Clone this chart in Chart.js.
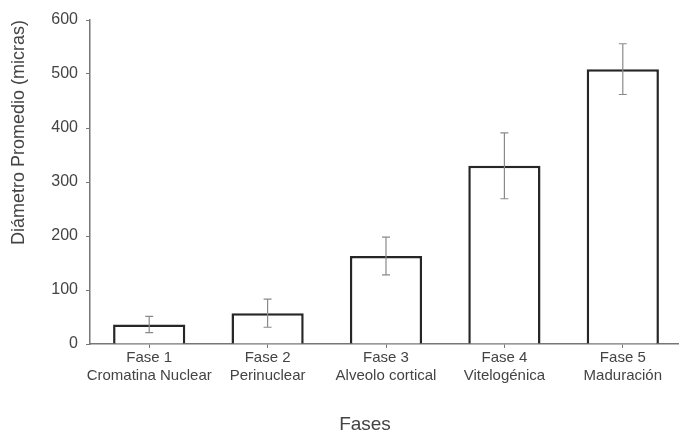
<!DOCTYPE html>
<html>
<head>
<meta charset="utf-8">
<script src="https://cdn.jsdelivr.net/npm/chart.js@4/dist/chart.umd.min.js"></script>
<style>
  html, body { margin: 0; padding: 0; background: #fff; overflow: hidden; }
  #chart { display: block; }
</style>
</head>
<body>
<canvas id="chart" width="682" height="435"></canvas>
<script>
// Fases del desarrollo ovocitario
const phaseLabels = [
    ['Fase 1', 'Cromatina Nuclear'],
    ['Fase 2', 'Perinuclear'],
    ['Fase 3', 'Alveolo cortical'],
    ['Fase 4', 'Vitelogénica'],
    ['Fase 5', 'Maduración']
];
// Diámetro promedio (micras) y desviación
const meanDiameter = [36, 57, 163, 330, 509];
const stdDev = [15, 26, 35, 61, 47];
const yTicks = [0, 100, 200, 300, 400, 500, 600];

const textColor = '#444';
const axisColor = '#777';

// draw error bars on top of each bar
const errorBarsPlugin = {
    id: 'errorBars',
    afterDatasetsDraw(chart) {
        const ctx = chart.ctx;
        const yScale = chart.scales.y;
        const meta = chart.getDatasetMeta(0);
        ctx.save();
        ctx.strokeStyle = '#8a8a8a';
        ctx.lineWidth = 1.2;
        meta.data.forEach((bar, i) => {
            const top = yScale.getPixelForValue(meanDiameter[i] + stdDev[i]);
            const bottom = yScale.getPixelForValue(meanDiameter[i] - stdDev[i]);
            const cap = 4;
            ctx.beginPath();
            ctx.moveTo(bar.x, top);
            ctx.lineTo(bar.x, bottom);
            ctx.moveTo(bar.x - cap, top);
            ctx.lineTo(bar.x + cap, top);
            ctx.moveTo(bar.x - cap, bottom);
            ctx.lineTo(bar.x + cap, bottom);
            ctx.stroke();
        });
        ctx.restore();
    }
};

// x axis title, sits a bit left of the plot centre
const xTitlePlugin = {
    id: 'xTitle',
    afterDraw(chart) {
        const ctx = chart.ctx;
        ctx.save();
        ctx.fillStyle = textColor;
        ctx.font = '19px "Liberation Sans", Arial, sans-serif';
        ctx.textAlign = 'center';
        ctx.textBaseline = 'middle';
        ctx.fillText('Fases', chart.chartArea.left + 275, chart.chartArea.bottom + 81);
        ctx.restore();
    }
};

new Chart(document.getElementById('chart'), {
    type: 'bar',
    data: {
        labels: phaseLabels,
        datasets: [{
            data: meanDiameter,
            backgroundColor: '#ffffff',
            borderColor: '#262626',
            borderWidth: 2.5,
            categoryPercentage: 1,
            barPercentage: 0.61
        }]
    },
    options: {
        responsive: false,
        animation: false,
        layout: { padding: { top: 20, left: 0, right: 0, bottom: 0 } },
        plugins: {
            legend: { display: false },
            tooltip: { enabled: false }
        },
        scales: {
            x: {
                afterFit(scale) { scale.height = 91; },
                grid: {
                    display: true,
                    drawOnChartArea: false,
                    offset: false,
                    tickLength: 4,
                    color: axisColor
                },
                border: { color: axisColor, width: 1.5 },
                ticks: {
                    color: textColor,
                    padding: 1,
                    maxRotation: 0,
                    autoSkip: false,
                    font: { family: '"Liberation Sans", Arial, sans-serif', size: 15 }
                }
            },
            y: {
                min: 0,
                max: 600,
                afterFit(scale) { scale.width = 90; },
                afterBuildTicks(scale) { scale.ticks = yTicks.map(v => ({ value: v })); },
                grid: {
                    display: true,
                    drawOnChartArea: false,
                    tickLength: 4,
                    color: axisColor
                },
                border: { color: axisColor, width: 1.5 },
                ticks: {
                    color: textColor,
                    padding: 8,
                    font: { family: '"Liberation Sans", Arial, sans-serif', size: 16 }
                },
                title: {
                    display: true,
                    text: 'Diámetro Promedio (micras)',
                    align: 'end',
                    color: textColor,
                    padding: { top: 8, bottom: 0 },
                    font: { family: '"Liberation Sans", Arial, sans-serif', size: 18 }
                }
            }
        }
    },
    plugins: [errorBarsPlugin, xTitlePlugin]
});
</script>
</body>
</html>
